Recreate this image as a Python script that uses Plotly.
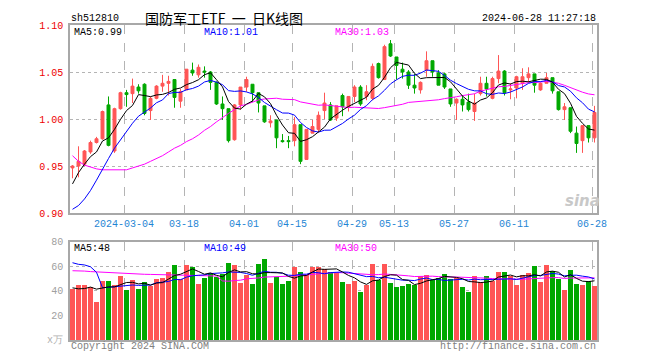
import plotly.graph_objects as go
import pandas as pd

# ---------------- data ----------------
opens = [0.948, 0.950, 0.952, 0.965, 0.975, 0.979, 1.015, 0.966, 1.011, 1.028,
         1.027, 1.034, 1.037, 1.009, 1.022, 1.035, 1.038, 1.042, 1.019, 1.031,
         1.052, 1.047, 1.051, 1.050, 1.039, 1.016, 1.011, 0.978, 1.015, 1.034,
         1.037, 1.028, 1.014, 0.996, 0.999, 0.977, 0.977, 0.977, 0.994, 0.957,
         0.985, 0.989, 1.009, 1.015, 1.001, 1.025, 1.013, 1.024, 1.034, 1.024,
         1.022, 1.059, 1.042, 1.080, 1.066, 1.053, 1.050, 1.036, 1.031, 1.052,
         1.062, 1.049, 1.048, 1.032, 1.017, 1.021, 1.018, 1.008, 1.027, 1.038,
         1.022, 1.043, 1.051, 1.031, 1.033, 1.038, 1.044, 1.048, 1.031, 1.038,
         1.044, 1.029, 1.010, 1.012, 0.985, 0.977, 0.993, 0.980]
highs = [0.951, 0.971, 0.967, 0.977, 0.981, 1.009, 1.024, 1.012, 1.029, 1.031,
         1.043, 1.037, 1.038, 1.024, 1.036, 1.047, 1.046, 1.042, 1.032, 1.053,
         1.060, 1.058, 1.056, 1.051, 1.040, 1.024, 1.011, 1.016, 1.034, 1.045,
         1.037, 1.028, 1.014, 1.004, 0.999, 0.984, 0.982, 1.002, 0.994, 0.989,
         0.999, 1.008, 1.028, 1.018, 1.014, 1.027, 1.024, 1.036, 1.036, 1.036,
         1.059, 1.060, 1.079, 1.084, 1.066, 1.060, 1.052, 1.048, 1.040, 1.072,
         1.062, 1.052, 1.049, 1.032, 1.022, 1.025, 1.027, 1.027, 1.045, 1.045,
         1.045, 1.068, 1.052, 1.038, 1.046, 1.054, 1.055, 1.048, 1.039, 1.049,
         1.044, 1.029, 1.017, 1.012, 0.992, 0.993, 0.993, 1.014]
lows = [0.937, 0.938, 0.950, 0.963, 0.974, 0.978, 0.971, 0.964, 1.010, 1.013,
        1.017, 1.027, 1.004, 0.999, 1.021, 1.029, 1.025, 1.012, 1.012, 1.031,
        1.046, 1.044, 1.044, 1.031, 1.015, 0.999, 0.975, 0.977, 1.010, 1.029,
        1.018, 1.007, 0.996, 0.991, 0.969, 0.975, 0.969, 0.971, 0.952, 0.957,
        0.985, 0.986, 1.000, 0.998, 0.998, 1.003, 1.008, 1.018, 1.014, 1.020,
        1.020, 1.043, 1.042, 1.066, 1.042, 1.043, 1.032, 1.027, 1.027, 1.045,
        1.045, 1.036, 1.032, 1.013, 0.999, 1.008, 1.008, 0.998, 1.025, 1.024,
        1.021, 1.038, 1.025, 1.021, 1.022, 1.031, 1.039, 1.028, 1.030, 1.038,
        1.027, 1.009, 0.999, 0.985, 0.964, 0.964, 0.975, 0.975]
closes = [0.950, 0.955, 0.966, 0.975, 0.979, 1.008, 0.972, 1.011, 1.028, 1.026,
          1.035, 1.030, 1.006, 1.022, 1.035, 1.038, 1.040, 1.023, 1.029, 1.053,
          1.049, 1.055, 1.050, 1.039, 1.016, 1.011, 0.977, 1.015, 1.034, 1.042,
          1.028, 1.017, 0.997, 0.998, 0.980, 0.976, 0.976, 0.994, 0.955, 0.989,
          0.992, 1.004, 1.017, 0.999, 1.014, 1.013, 1.024, 1.034, 1.016, 1.029,
          1.056, 1.044, 1.077, 1.067, 1.057, 1.050, 1.036, 1.033, 1.039, 1.062,
          1.050, 1.036, 1.034, 1.016, 1.021, 1.015, 1.010, 1.017, 1.038, 1.032,
          1.043, 1.051, 1.028, 1.032, 1.045, 1.045, 1.048, 1.036, 1.038, 1.044,
          1.030, 1.010, 1.013, 0.987, 0.974, 0.993, 0.980, 1.007]
volumes = [42.1, 44.8, 44.8, 43.5, 31.5, 48.0, 48.0, 44.8, 52.0, 40.8,
           48.8, 41.6, 47.2, 44.3, 49.6, 50.5, 56.0, 61.6, 49.6, 61.6,
           60.0, 45.6, 50.4, 55.0, 51.8, 54.0, 63.2, 61.0, 46.6, 52.8,
           45.6, 62.4, 66.4, 46.7, 51.5, 45.6, 48.0, 59.5, 56.0, 53.0,
           60.0, 60.0, 58.0, 56.0, 54.9, 47.5, 45.9, 48.3, 39.5, 44.8,
           61.9, 49.1, 62.4, 46.7, 43.5, 44.0, 45.9, 45.0, 52.0, 53.0,
           49.0, 50.7, 53.9, 50.1, 50.7, 43.5, 39.5, 52.3, 47.5, 52.3,
           48.3, 55.5, 55.5, 52.3, 45.0, 53.0, 54.7, 60.3, 47.5, 61.0,
           56.3, 50.1, 41.0, 57.0, 45.9, 45.0, 48.3, 44.3]

# moving-average values shown before enough candles are on screen
ma5_lead = [0.931, 0.943, 0.952, 0.960]
ma10_lead = [0.904, 0.908, 0.915, 0.924, 0.935, 0.947, 0.958, 0.969, 0.978]
ma30_lead = [0.961, 0.955, 0.951, 0.949, 0.947, 0.946, 0.946, 0.946, 0.946, 0.946,
             0.948, 0.950, 0.952, 0.955, 0.958, 0.961, 0.965, 0.969, 0.972, 0.976,
             0.979, 0.983, 0.988, 0.992, 0.997, 1.002, 1.006, 1.010, 1.014]
vma5_lead = [42.4, 41.6, 41.8, 43.0]
vma10_lead = [62.8, 61.5, 61.0, 59.5, 55.0, 42.5, 42.8, 43.2, 43.5]
vma30_lead = [56.3, 56.3, 56.0, 55.6, 55.3, 55.2, 55.0, 54.5, 54.3, 54.2,
              54.0, 53.6, 53.4, 53.3, 53.2, 53.1, 53.0, 52.9, 52.8, 52.7,
              52.7, 52.6, 52.5, 52.3, 52.0, 48.0, 47.8, 48.3, 48.6]

tick_index = [9, 19, 29, 37, 47, 54, 64, 74, 87]
tick_labels = ["2024-03-04", "03-18", "04-01", "04-15", "04-29",
               "05-13", "05-27", "06-11", "06-28"]
price_ticks = [0.90, 0.95, 1.00, 1.05, 1.10]
vol_ticks = [20, 40, 60, 80]

# ---------------- styling ----------------
RED = "#ff5555"
GREEN = "#00a800"
MONO = "Liberation Mono, DejaVu Sans Mono, monospace"
CJK = "Noto Sans CJK SC, sans-serif"
BORDER = "#a8a8a8"
GRID = "#b4b4b4"
PAGE_OFFSET = 8  # default body margin of the html page


def moving_avg(vals, n, lead):
    s = pd.Series(vals, dtype=float).rolling(n).mean().tolist()
    return list(lead) + s[n - 1:]


x = list(range(len(closes)))
ma5 = moving_avg(closes, 5, ma5_lead)
ma10 = moving_avg(closes, 10, ma10_lead)
ma30 = moving_avg(closes, 30, ma30_lead)
vma5 = moving_avg(volumes, 5, vma5_lead)
vma10 = moving_avg(volumes, 10, vma10_lead)
vma30 = moving_avg(volumes, 30, vma30_lead)
bar_colors = [RED if c >= o else GREEN for o, c in zip(opens, closes)]

fig = go.Figure()
fig.add_trace(go.Candlestick(
    x=x, open=opens, high=highs, low=lows, close=closes,
    increasing=dict(line=dict(color=RED, width=1), fillcolor=RED),
    decreasing=dict(line=dict(color=GREEN, width=1), fillcolor=GREEN),
    whiskerwidth=0, hoverinfo="skip", xaxis="x", yaxis="y"))
for vals, col in [(ma30, "#ff00ff"), (ma10, "#0000ff"), (ma5, "#000000")]:
    fig.add_trace(go.Scatter(x=x, y=vals, mode="lines",
                             line=dict(color=col, width=1),
                             hoverinfo="skip", xaxis="x", yaxis="y"))

fig.add_trace(go.Bar(x=x, y=volumes, marker=dict(color=bar_colors, line=dict(width=0)),
                     width=0.83, hoverinfo="skip", xaxis="x2", yaxis="y2"))
for vals, col in [(vma30, "#ff00ff"), (vma10, "#0000ff"), (vma5, "#000000")]:
    fig.add_trace(go.Scatter(x=x, y=vals, mode="lines",
                             line=dict(color=col, width=1),
                             hoverinfo="skip", xaxis="x2", yaxis="y2"))

tickpos = [i - 0.4 for i in tick_index]
xrange_ = [-0.417, len(closes) - 1 + 0.417]
common_x = dict(range=xrange_, tickvals=tickpos, showgrid=True, gridcolor=GRID,
                griddash="dash", gridwidth=1, showline=True, mirror=True,
                linecolor=BORDER, linewidth=1.5, zeroline=False, ticks="",
                fixedrange=True)

fig.update_layout(
    width=660, height=360,
    margin=dict(l=70 - PAGE_OFFSET, r=63 + PAGE_OFFSET,
                t=20 - PAGE_OFFSET, b=20 + PAGE_OFFSET),
    paper_bgcolor="white", plot_bgcolor="white",
    showlegend=False, bargap=0,
    xaxis=dict(domain=[0, 1], anchor="y", ticktext=tick_labels,
               tickfont=dict(family=MONO, size=10, color="#1f86d4"),
               rangeslider=dict(visible=False), **common_x),
    xaxis2=dict(domain=[0, 1], anchor="y2", showticklabels=False, **common_x),
    yaxis=dict(domain=[0.403, 1], range=[0.90, 1.10], tickvals=price_ticks,
               ticktext=[f"{v:.2f}" for v in price_ticks],
               tickfont=dict(family=MONO, size=10, color="#ee0000"),
               showgrid=True, gridcolor=GRID, griddash="dot", showline=True,
               mirror=True, linecolor=BORDER, linewidth=1.5, zeroline=False,
               ticks="", ticklabelstandoff=3),
    yaxis2=dict(domain=[0, 0.3125], range=[0, 80], tickvals=vol_ticks,
                ticktext=[str(v) for v in vol_ticks],
                tickfont=dict(family=MONO, size=10, color="#a0a0a0"),
                showgrid=True, gridcolor=GRID, griddash="dot", showline=True,
                mirror=True, linecolor=BORDER, linewidth=1.5, zeroline=False,
                ticks="", ticklabelstandoff=3),
)


def px(xp, yp):
    return (xp - 70) / 527.0, (340 - yp) / 320.0


def note(text, xp, yp, color="#000000", anchor="left", size=10, family=MONO):
    ax, ay = px(xp, yp)
    fig.add_annotation(text=text, x=ax, y=ay, xref="paper", yref="paper",
                       xanchor=anchor, yanchor="middle", showarrow=False,
                       font=dict(family=family, size=size, color=color))


note("sh512810", 69, 13)
note("国防军工ETF\u00a0\u00a0一\u00a0\u00a0日K线图", 224, 13, anchor="center", size=14, family=CJK)
note("2024-06-28 11:27:18", 598, 13, anchor="right")
note("MA5:0.99", 72, 28)
note("MA10:1.01", 202, 28, color="#0000ff")
note("MA30:1.03", 333, 28, color="#ff00ff")
note("MA5:48", 72, 247)
note("MA10:49", 202, 247, color="#0000ff")
note("MA30:50", 333, 247, color="#ff00ff")
note("x万", 65, 340, color="#b0b0b0", anchor="right")
note("Copyright 2024 SINA.COM", 69, 347, color="#808080")
note("http://finance.sina.com.cn", 598, 347, color="#808080", anchor="right")
note("<b><i>sina</i></b>", 582, 199, color="#c8c8c8", anchor="center", size=15,
     family="DejaVu Sans, sans-serif")

fig.write_html("out.html")
